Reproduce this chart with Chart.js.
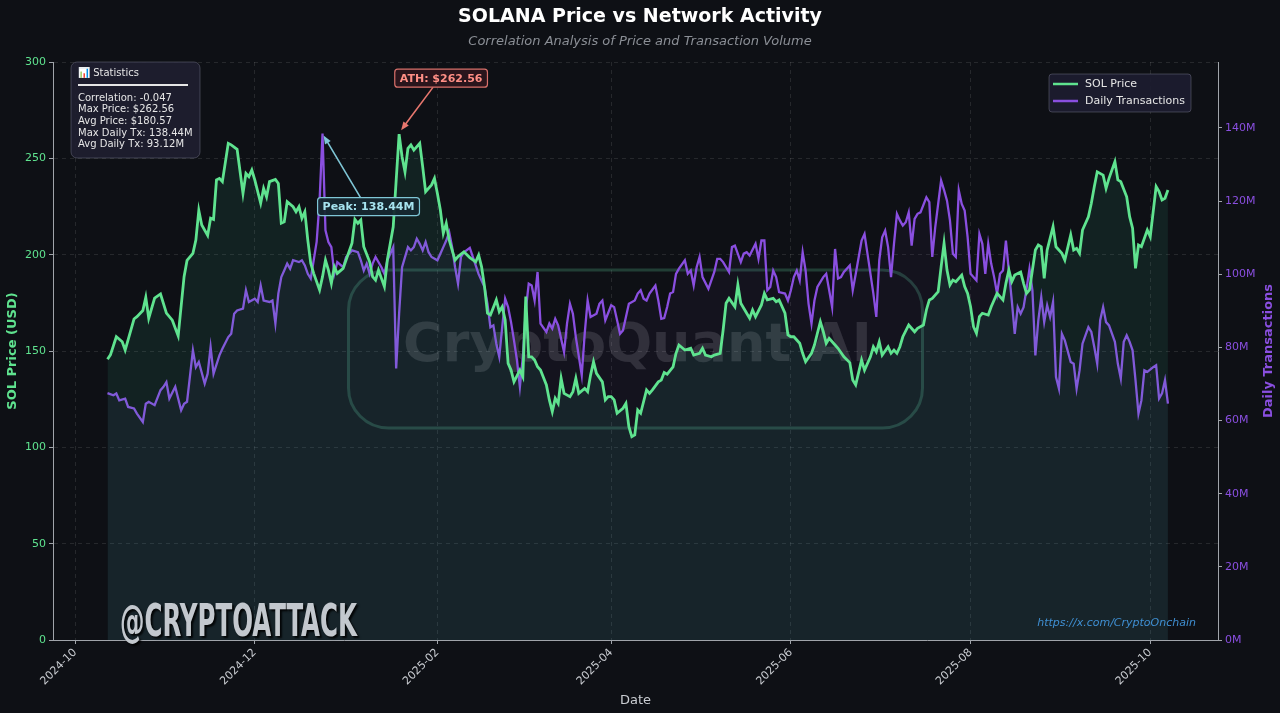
<!DOCTYPE html>
<html>
<head>
<meta charset="utf-8">
<title>SOLANA Price vs Network Activity</title>
<script src="https://cdn.jsdelivr.net/npm/chart.js@4.4.1/dist/chart.umd.min.js"></script>
<style>
  html, body { margin: 0; padding: 0; background: #0e1015; }
  #wrap { width: 1280px; height: 713px; position: relative; }
</style>
</head>
<body>
<div id="wrap"><canvas id="solChart"></canvas></div>
<script>
// x values are days counted from 2024-10-01
const dayZero = Date.UTC(2024, 9, 1);
const tickMonths = ["2024-10", "2024-12", "2025-02", "2025-04", "2025-06", "2025-08", "2025-10"];

const priceDays = [11,12,14,16,17,20,21,23,24,25,27,29,31,33,35,37,38,40,41,42,43,45,46,47,48,49,50,52,53,55,57,58,59,60,61,63,64,65,66,68,69,70,71,72,74,75,76,77,78,79,80,81,83,84,85,86,87,88,89,91,92,94,95,96,97,98,100,101,102,103,104,105,106,108,110,111,112,113,114,115,117,118,119,121,122,123,124,125,126,127,128,129,130,132,134,136,137,138,139,140,141,143,144,145,146,147,148,149,151,152,153,154,155,156,157,158,160,161,162,163,164,165,166,168,169,170,171,173,174,175,176,177,179,180,181,182,183,184,186,187,188,189,190,191,192,194,195,196,198,199,200,201,203,204,205,207,209,210,212,213,214,216,217,219,220,221,222,224,225,226,228,229,230,231,233,234,235,237,238,239,241,242,243,244,246,247,248,250,251,252,253,254,255,256,258,259,261,263,264,265,267,268,270,271,272,273,274,276,277,278,279,280,281,283,285,286,288,289,290,291,293,294,295,296,297,298,299,301,302,303,304,305,306,307,308,310,311,312,313,315,316,317,318,319,321,322,323,324,326,327,328,329,330,332,333,335,336,338,339,340,341,342,344,345,346,347,349,350,351,353,354,355,357,358,359,360,361,362,364,365,367,368,369,370,371];
const priceValues = [145.7,148,157.4,154.8,150.5,166.6,167.8,171,177.9,167,177.5,179.6,169.7,166,157.8,188.6,197,200.7,207.6,223,215.4,210,218.9,218.3,238.8,239.6,237.9,257.8,257,254.7,231.8,242.2,240.5,243.9,238.8,226.7,234.4,230,237.9,239.1,237,216.3,217,227.5,224.9,222.3,224.9,218.9,222.3,207.6,195.5,190.3,181.7,188.6,197.2,192,185.1,193.7,190.3,192.9,197.2,205.9,218.3,216.3,218,204.1,196.3,188.6,186.8,192,187.7,183.4,197.2,214.5,262.56,250.8,243,255.2,257,254.3,257.8,245.7,232.7,236.2,239.6,231.8,223.2,211.1,216.3,207.6,202.4,197.2,199,201.5,198.5,196.3,199.8,193.7,183.4,169.6,168.7,176.5,170.4,173,166.1,143.6,140.1,134,140.1,136.7,178.2,147,147,145.3,141.8,140.1,132.4,124.6,118.5,125.4,122.8,135.8,128,126.3,128.9,135.8,128,130.6,128.9,137.5,144.4,138.4,134,124.6,126.3,126.3,124.6,117.7,120.3,122.8,110.7,105.5,106.4,119.4,117.7,129.8,128,129.8,134,134.9,138.8,138,141.8,148.8,153.1,150.5,151.4,147.9,148.8,151.4,147.9,147,147.9,148.8,160.9,174.8,177.3,173,184.3,174.8,169.6,167,171.3,167.8,173.9,179.9,176.5,177.3,175.6,176.5,169.6,158.3,157.4,157.4,154,148.8,144.4,148.8,153.1,159.2,165.2,160,154,156.6,153.1,151.4,147,144,134.9,132.4,145.3,140.1,147,152.2,149.6,154.8,147.9,152.2,148.8,150.5,148.8,152.2,157.4,163.5,160,161.8,163.5,171.3,176.5,177.3,180.8,193.7,205.9,192,184.3,186.8,186,189.4,183.4,179.9,173,162.6,159.2,167.8,169.6,168.7,173,176.5,179.9,176.5,185.1,192,186,189.4,191,185.1,179.9,181.7,202.4,205,204.1,187.7,202.4,214.5,204.1,200.7,197.2,210.2,202.4,203.3,200.7,212.8,219.7,226.7,235.3,243,241.3,234.4,239.6,248.3,238.8,237.9,230,219.7,213.7,192.9,205,204.1,212.8,209.3,235.3,232.7,228.4,229.3,233.6];

// daily transactions, millions
const txDays = [11,13,14,15,17,18,20,21,23,24,25,27,29,30,31,32,34,36,37,38,40,41,42,44,45,46,47,49,50,52,53,54,55,57,58,59,61,62,63,64,66,67,68,69,70,71,72,73,74,76,77,78,79,80,81,82,83,84,85,86,87,88,89,91,92,94,96,97,98,99,100,101,102,104,105,106,107,108,109,110,111,113,114,115,116,117,118,119,120,121,123,124,125,126,127,128,129,130,131,132,134,136,137,139,140,141,142,143,144,145,146,147,148,149,150,151,152,153,154,155,156,157,158,160,161,162,163,164,166,167,168,169,170,172,173,174,175,177,178,179,180,182,183,184,185,186,187,188,190,191,192,193,194,195,197,198,199,200,201,202,203,204,205,207,208,209,210,211,212,213,215,217,218,219,220,222,223,224,226,227,228,229,231,232,233,234,235,236,237,238,239,241,242,243,244,245,246,247,248,249,250,251,252,254,255,256,257,258,259,260,261,263,264,265,267,268,269,271,272,273,274,275,276,277,278,279,280,281,282,283,284,285,286,287,289,290,291,292,293,294,295,296,297,298,299,300,301,302,303,304,306,307,308,309,310,311,312,313,314,315,316,317,318,319,320,321,322,323,324,325,326,327,328,329,330,331,332,333,334,335,336,338,339,340,341,342,344,345,346,347,348,349,350,351,353,354,355,356,357,358,359,360,361,362,363,364,366,367,368,369,370,371];
const txValues = [67.5,66.9,67.4,65.5,66,63.7,63.3,61.9,59.6,64.6,65.1,64.2,68.3,69.2,70.5,66,69.2,62.8,64.6,65.1,79.2,74.6,76,70.1,72.8,80.1,72.8,77.8,79.6,82.8,83.7,89.2,90.1,90.6,95.6,92.4,93.3,92.4,96.9,92.8,92.4,92.8,86.5,94.7,99.2,101,102.9,101.5,103.8,103.3,103.8,102.4,100.1,98.8,103.8,108.8,120.1,138.44,112,108.8,107.4,100.1,103.3,101.9,104.7,106.5,106,103.8,101,102.9,100.1,102.9,104.7,101.9,100.1,103.8,105.6,107.4,74.2,89.2,101.9,107.4,106.5,107.4,109.7,108.3,106.5,108.8,106,104.7,103.8,105.6,107.4,109.2,111.5,107.4,101.9,97.4,104.7,106,107.2,102.4,100,96.5,91.9,85.5,86,81,77.4,85.5,93.3,91,86.9,81.9,76.5,69.2,77.4,90.1,97.4,96.9,92.8,100.6,86.5,84.2,86.5,85.1,87.8,86,78.7,86.5,91.9,89.2,82.8,72.4,83.7,92.8,88.3,89.2,91.9,92.8,87.4,91.5,91,87.4,83.7,84.6,88.3,91.9,92.8,94.7,95.6,93.3,92.8,94.7,96.9,92.8,87.8,88,91,94.7,95.1,100.1,101.5,103.8,100.1,101,96.9,101.9,104.7,99.2,96,100.6,104.2,104.2,103.3,100.6,107.4,107.8,103.3,105.6,106,105.1,108.3,104.2,109.2,109.2,95.6,96.5,101,99.2,95.1,94.7,92.8,95.6,99.2,101,98.3,106,101,91.9,86.5,92.8,96.5,99.2,100.1,95.6,91,106.9,98.8,99.2,100.6,102.4,95.6,100,109.2,111,105.6,94.7,88.3,103.8,110.1,111.9,107.4,99.2,108.3,116.5,114.7,113.3,114.2,116.9,107.8,115.1,116.5,116.9,121,119.7,104.7,112.8,119.2,125.6,123,120.1,114.7,105.6,104.7,122.9,119.2,117.4,110.1,100.1,98.3,111,108.3,100.1,108.3,102.9,99.2,94.7,100.1,101,109.2,101,92.8,83.7,91,89.2,91,96,101.5,95.6,77.8,87.4,93.7,86.9,91.5,88.3,92.4,71.9,68.7,83.7,81.9,76,75.5,68.7,73.7,81,85.5,84.2,80.1,75.5,87.4,91,86.9,86,81.5,75.5,71.5,81.5,83.3,81.5,79.2,71,61.9,65.5,73.7,73.3,74.6,75.1,66,67.4,71,64.6];

const priceTicks = [0, 50, 100, 150, 200, 250, 300];
const txTicks = [0, 20, 40, 60, 80, 100, 120, 140];

const statLines = [
  "Correlation: -0.047",
  "Max Price: $262.56",
  "Avg Price: $180.57",
  "Max Daily Tx: 138.44M",
  "Avg Daily Tx: 93.12M"
];

const GREEN = "#5fe38f";
const PURPLE = "#8a4fe0";
const FONT = '"DejaVu Sans", sans-serif';

const tickDays = tickMonths.map(m => {
  const [y, mo] = m.split("-").map(Number);
  return (Date.UTC(y, mo - 1, 1) - dayZero) / 864e5;
});

function rr(ctx, x, y, w, h, r) {
  ctx.beginPath();
  ctx.moveTo(x + r, y);
  ctx.arcTo(x + w, y, x + w, y + h, r);
  ctx.arcTo(x + w, y + h, x, y + h, r);
  ctx.arcTo(x, y + h, x, y, r);
  ctx.arcTo(x, y, x + w, y, r);
  ctx.closePath();
}

function arrow(ctx, x1, y1, x2, y2, color) {
  const a = Math.atan2(y2 - y1, x2 - x1);
  ctx.strokeStyle = color;
  ctx.fillStyle = color;
  ctx.lineWidth = 1.6;
  ctx.beginPath();
  ctx.moveTo(x1, y1);
  ctx.lineTo(x2 - 6 * Math.cos(a), y2 - 6 * Math.sin(a));
  ctx.stroke();
  ctx.beginPath();
  ctx.moveTo(x2, y2);
  ctx.lineTo(x2 - 9 * Math.cos(a - 0.38), y2 - 9 * Math.sin(a - 0.38));
  ctx.lineTo(x2 - 9 * Math.cos(a + 0.38), y2 - 9 * Math.sin(a + 0.38));
  ctx.closePath();
  ctx.fill();
}

function labelBox(ctx, text, cx, cy, fill, stroke, color) {
  ctx.font = "bold 11px " + FONT;
  const w = ctx.measureText(text).width + 10;
  const h = 18;
  rr(ctx, cx - w / 2, cy - h / 2, w, h, 3);
  ctx.fillStyle = fill;
  ctx.fill();
  ctx.strokeStyle = stroke;
  ctx.lineWidth = 1.2;
  ctx.stroke();
  ctx.fillStyle = color;
  ctx.textAlign = "center";
  ctx.textBaseline = "middle";
  ctx.fillText(text, cx, cy + 1);
}

const decor = {
  id: "decor",
  beforeDatasetsDraw(chart) {
    const ctx = chart.ctx, a = chart.chartArea;
    const cx = (a.left + a.right) / 2, cy = (a.top + a.bottom) / 2;
    ctx.save();
    rr(ctx, cx - 287, cy - 81, 574, 158, 40);
    ctx.strokeStyle = "rgba(90,200,150,0.25)";
    ctx.lineWidth = 3;
    ctx.stroke();
    ctx.font = "bold 54px " + FONT;
    ctx.fillStyle = "rgba(255,255,255,0.13)";
    ctx.textAlign = "center";
    ctx.textBaseline = "middle";
    ctx.fillText("CryptoQuant AI", cx + 2, cy - 4);
    ctx.restore();
  },
  afterDatasetsDraw(chart) {
    const ctx = chart.ctx, a = chart.chartArea;
    const xs = chart.scales.x, ys = chart.scales.y, ts = chart.scales.y1;
    ctx.save();

    // statistics box
    const bx = a.left + 18, by = a.top;
    rr(ctx, bx, by, 129, 96, 6);
    ctx.fillStyle = "rgba(30,30,48,0.92)";
    ctx.fill();
    ctx.strokeStyle = "rgba(120,120,140,0.45)";
    ctx.lineWidth = 1;
    ctx.stroke();
    ctx.fillStyle = "#e6e6e6";
    ctx.font = "10px " + FONT;
    ctx.textAlign = "left";
    ctx.textBaseline = "middle";
    ctx.fillText("\u{1F4CA} Statistics", bx + 7, by + 11);
    ctx.strokeStyle = "#e6e6e6";
    ctx.lineWidth = 2;
    ctx.beginPath();
    ctx.moveTo(bx + 7, by + 23);
    ctx.lineTo(bx + 117, by + 23);
    ctx.stroke();
    statLines.forEach((t, i) => ctx.fillText(t, bx + 7, by + 36 + i * 11.7));

    // legend
    const lx = a.right - 169, ly = a.top + 12;
    rr(ctx, lx, ly, 142, 38, 3);
    ctx.fillStyle = "rgba(28,28,48,0.92)";
    ctx.fill();
    ctx.strokeStyle = "rgba(120,120,140,0.45)";
    ctx.lineWidth = 1;
    ctx.stroke();
    ctx.font = "11px " + FONT;
    ctx.fillStyle = "#e6e6e6";
    [["SOL Price", GREEN, 10], ["Daily Transactions", PURPLE, 27]].forEach(([t, c, dy]) => {
      ctx.strokeStyle = c;
      ctx.lineWidth = 2.5;
      ctx.beginPath();
      ctx.moveTo(lx + 4, ly + dy);
      ctx.lineTo(lx + 29, ly + dy);
      ctx.stroke();
      ctx.fillText(t, lx + 36, ly + dy);
    });

    // ATH annotation
    const maxP = Math.max(...priceValues);
    const ip = priceValues.indexOf(maxP);
    const px = xs.getPixelForValue(priceDays[ip]), py = ys.getPixelForValue(maxP);
    arrow(ctx, px + 34, py - 47, px + 2, py - 4, "#e8776e");
    labelBox(ctx, "ATH: $" + maxP.toFixed(2), px + 42, py - 56, "rgba(44,22,28,0.95)", "#d9706b", "#ff8f86");

    // peak transactions annotation
    const maxT = Math.max(...txValues);
    const it = txValues.indexOf(maxT);
    const tx = xs.getPixelForValue(txDays[it]), ty = ts.getPixelForValue(maxT);
    arrow(ctx, tx + 38, ty + 64, tx + 1, ty + 2, "#7fc6d6");
    labelBox(ctx, "Peak: " + maxT.toFixed(2) + "M", tx + 46, ty + 73, "rgba(22,40,48,0.95)", "#7fc6d6", "#a6e3ef");

    // handle and link
    ctx.font = 'bold 44px "DejaVu Sans Condensed", "Liberation Sans Narrow", sans-serif';
    const hw = ctx.measureText("@CRYPTOATTACK").width;
    ctx.save();
    ctx.translate(a.left + 67, a.bottom - 4);
    ctx.scale(237 / hw, 1);
    ctx.textAlign = "left";
    ctx.textBaseline = "alphabetic";
    ctx.shadowColor = "rgba(0,0,0,0.85)";
    ctx.shadowOffsetX = 2;
    ctx.shadowOffsetY = 2;
    ctx.shadowBlur = 2;
    ctx.fillStyle = "#c3c8ce";
    ctx.fillText("@CRYPTOATTACK", 0, 0);
    ctx.restore();

    ctx.font = "italic 11px " + FONT;
    ctx.fillStyle = "#3f8fd2";
    ctx.textAlign = "right";
    ctx.textBaseline = "middle";
    ctx.fillText("https://x.com/CryptoOnchain", a.right - 22, a.bottom - 17);
    ctx.restore();
  },
  afterDraw(chart) {
    // right axis title, reading bottom to top
    const ctx = chart.ctx, a = chart.chartArea;
    ctx.save();
    ctx.translate(chart.width - 11, (a.top + a.bottom) / 2);
    ctx.rotate(-Math.PI / 2);
    ctx.font = "bold 13px " + FONT;
    ctx.fillStyle = PURPLE;
    ctx.textAlign = "center";
    ctx.textBaseline = "middle";
    ctx.fillText("Daily Transactions", 0, 0);
    ctx.restore();
  }
};

Chart.defaults.font.family = FONT;

new Chart(document.getElementById("solChart"), {
  type: "line",
  data: {
    datasets: [
      {
        label: "SOL Price",
        data: priceDays.map((d, i) => ({ x: d, y: priceValues[i] })),
        yAxisID: "y",
        borderColor: GREEN,
        borderWidth: 2.8,
        pointRadius: 0,
        tension: 0,
        fill: "origin",
        backgroundColor: "rgba(60,200,160,0.10)",
        order: 1
      },
      {
        label: "Daily Transactions",
        data: txDays.map((d, i) => ({ x: d, y: txValues[i] })),
        yAxisID: "y1",
        borderColor: PURPLE,
        borderWidth: 2.3,
        pointRadius: 0,
        tension: 0,
        fill: "origin",
        backgroundColor: "rgba(139,79,224,0.05)",
        order: 2
      }
    ]
  },
  options: {
    responsive: true,
    maintainAspectRatio: false,
    animation: false,
    layout: { padding: 0 },
    plugins: {
      legend: { display: false },
      tooltip: { enabled: false },
      title: {
        display: true,
        text: "SOLANA Price vs Network Activity",
        color: "#ffffff",
        font: { size: 19, weight: "bold" },
        padding: { top: 6, bottom: 2 }
      },
      subtitle: {
        display: true,
        text: "Correlation Analysis of Price and Transaction Volume",
        color: "#8b8f96",
        font: { size: 13, style: "italic" },
        padding: { top: 3, bottom: 12.6 }
      }
    },
    scales: {
      x: {
        type: "linear",
        min: -7.5,
        max: 388,
        afterBuildTicks: s => { s.ticks = tickDays.map(v => ({ value: v })); },
        afterFit: s => { s.height = 73; },
        ticks: {
          autoSkip: false,
          minRotation: 45,
          maxRotation: 45,
          color: "#c9ccd1",
          font: { size: 11 },
          padding: 2,
          callback: (v, i) => tickMonths[i]
        },
        grid: { color: "rgba(255,255,255,0.10)", tickColor: "#a0a4aa", tickLength: 4 },
        border: { color: "#a0a4aa", dash: [4, 4] },
        title: { display: true, text: "Date", color: "#c9ccd1", font: { size: 13 }, padding: { top: 0, bottom: 5 } }
      },
      y: {
        position: "left",
        min: 0,
        max: 300,
        afterBuildTicks: s => { s.ticks = priceTicks.map(v => ({ value: v })); },
        afterFit: s => { s.width = 53; },
        ticks: { color: GREEN, font: { size: 11 }, padding: 3 },
        grid: { color: "rgba(255,255,255,0.10)", tickColor: "#a0a4aa", tickLength: 4 },
        border: { color: "#a0a4aa", dash: [4, 4] },
        title: { display: true, text: "SOL Price (USD)", color: GREEN, font: { size: 13, weight: "bold" }, padding: { top: 5, bottom: 0 } }
      },
      y1: {
        position: "right",
        min: 0,
        max: 158,
        afterBuildTicks: s => { s.ticks = txTicks.map(v => ({ value: v })); },
        afterFit: s => { s.width = 62; },
        ticks: { color: PURPLE, font: { size: 11 }, padding: 3, callback: v => v + "M" },
        grid: { drawOnChartArea: false, tickColor: "#a0a4aa", tickLength: 4 },
        border: { color: "#a0a4aa" },
        title: { display: false }
      }
    }
  },
  plugins: [decor]
});
</script>
</body>
</html>
